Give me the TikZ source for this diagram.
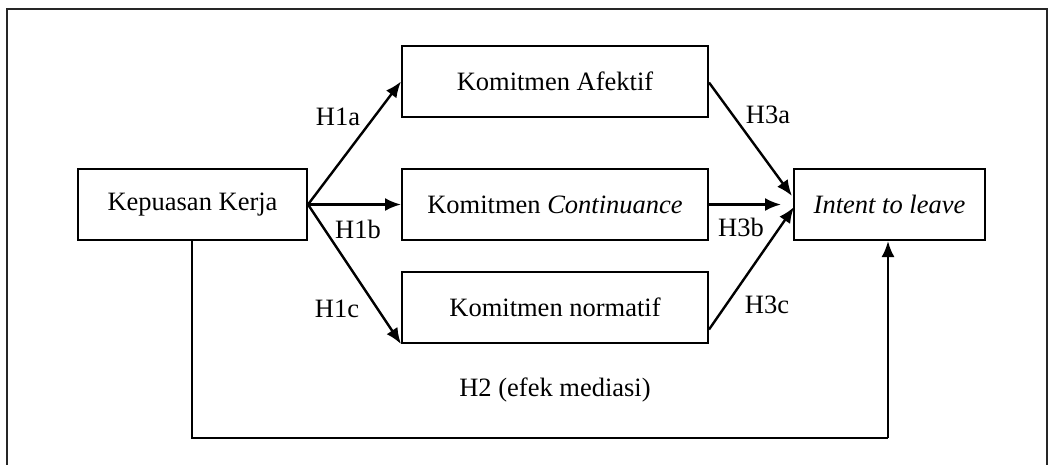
\documentclass[tikz,border=0pt]{standalone}
\usepackage{fontspec}
\setmainfont{Liberation Serif}
\usetikzlibrary{arrows.meta,calc}
\begin{document}
\begin{tikzpicture}[x=1pt,y=-1pt,
  box/.style={draw=black,line width=2pt,minimum height=71pt,inner sep=0pt,font=\fontsize{26.5}{30}\selectfont},
  arr/.style={line width=2.4pt,-{Latex[length=16pt,width=13pt]}},
  lab/.style={font=\fontsize{26.5}{30}\selectfont,inner sep=0pt}]
\useasboundingbox (0,0) rectangle (1049,464);
\draw[line width=2pt,draw=black!85] (7,480) -- (7,9) -- (1047,9) -- (1047,480);
\node[box,minimum width=229pt] (kep) at (192.5,204.5) {Kepuasan Kerja};
\node[box,minimum width=306pt] (aff) at (555,81.5) {Komitmen Afektif};
\node[box,minimum width=306pt] (cont) at (555,204.5) {Komitmen \textit{Continuance}};
\node[box,minimum width=306pt] (norm) at (555,307.5) {Komitmen normatif};
\node[box,minimum width=191pt] (int) at (889.5,204.5) {\textit{Intent to leave}};
\coordinate (t3a) at (792,196);
\coordinate (t3b) at (781,204.5);
\coordinate (t3c) at (794,207);
\coordinate (fb1) at (192,438);
\coordinate (fb2) at (888,438);
\draw[arr] (kep.east) -- (aff.west);
\draw[arr] (kep.east) -- (cont.west);
\draw[arr] (kep.east) -- (norm.south west);
\draw[arr] ($(aff.east)+(0,1)$) -- (t3a);
\draw[arr] (cont.east) -- (t3b);
\draw[arr] ($(norm.east)+(0,22)$) -- (t3c);
\draw[line width=2pt] (kep.south -| fb1) -- (fb1) -- (fb2);
\draw[arr] (fb2) -- (int.south -| fb2);
\node[lab] (h1a) at (338,117) {H1a};
\node[lab] (h1b) at (358,229) {H1b};
\node[lab] (h1c) at (337,309) {H1c};
\node[lab] (h3a) at (768,115) {H3a};
\node[lab] (h3b) at (741,227) {H3b};
\node[lab] (h3c) at (767,305) {H3c};
\node[lab] (h2) at (555,390) {H2 (efek mediasi)};
\end{tikzpicture}
\end{document}
